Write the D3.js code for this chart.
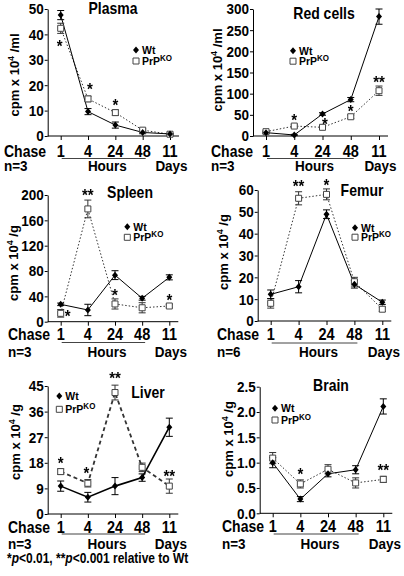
<!DOCTYPE html>
<html><head><meta charset="utf-8">
<script src="https://cdn.jsdelivr.net/npm/d3@7"></script>
<style>
body{margin:0;background:#fff}
svg{display:block}
text{font-family:"Liberation Sans",Arial,Helvetica,sans-serif;font-weight:bold;fill:#000}
.star{opacity:0.99;will-change:transform}
</style>
</head><body>
<svg id="chart" width="404" height="576"></svg>
<script>
// ---------- DATA ----------
const chase = ["1", "4", "24", "48", "11"];

const plasmaWt     = [47.6, 9.6, 4.3, 1.4, 0.8];
const plasmaWtErr  = [1.8, 1.2, 1.2, 0.5, 0.3];
const plasmaKO     = [42.4, 14.6, 9.2, 2.3, 0.7];
const plasmaKOErr  = [2.0, 1.1, 1.1, 0.5, 0.3];
const plasmaTicks  = [0, 10, 20, 30, 40, 50];

const redWt        = [7.9, 2.4, 52, 86, 282];
const redWtErr     = [2, 1.5, 3, 5, 18];
const redKO        = [10.2, 23.5, 20.5, 45.5, 107];
const redKOErr     = [2, 3, 3, 4, 11];
const redTicks     = [0, 50, 100, 150, 200, 250, 300];

const spleenWt     = [27.4, 18.5, 73.5, 37, 70];
const spleenWtErr  = [2, 9, 7, 3, 4];
const spleenKO     = [13.2, 178, 28, 22, 24.8];
const spleenKOErr  = [6, 14, 8, 8, 2];
const spleenTicks  = [0, 40, 80, 120, 160, 200];

const femurWt      = [12.2, 15.7, 48.9, 16.8, 8.6];
const femurWtErr   = [2, 2.8, 2, 1.7, 1];
const femurKO      = [8.1, 56.2, 58, 18, 5.4];
const femurKOErr   = [2.2, 3, 2.5, 2, 1];
const femurTicks   = [0, 10, 20, 30, 40, 50, 60];

const liverWt      = [9.8, 5.9, 9.8, 12.8, 30.5];
const liverWtErr   = [1.8, 1.7, 3.0, 1.3, 3.2];
const liverKO      = [14.9, 10.8, 42.7, 16.4, 9.8];
const liverKOErr   = [1.0, 1.3, 2.6, 1.5, 2.5];
const liverTicks   = [0, 9, 18, 27, 36, 45];

const brainWt      = [1.00, 0.28, 0.78, 0.86, 2.11];
const brainWtErr   = [0.10, 0.05, 0.06, 0.08, 0.15];
const brainKO      = [1.09, 0.58, 0.87, 0.60, 0.67];
const brainKOErr   = [0.11, 0.08, 0.09, 0.10, 0.06];
const brainTicks   = [0, 0.5, 1.0, 1.5, 2.0, 2.5];

// significance marks: [chase point, mark, level in data units]
const plasmaStars = [["1", "*", 36.6], ["4", "*", 19.7], ["24", "*", 13.5]];
const redStars    = [["4", "*", 44], ["24", "*", 36], ["48", "*", 65], ["11", "**", 134]];
const spleenStars = [["1", "*", 13.3], ["4", "**", 205], ["24", "*", 46.4], ["11", "*", 39.5]];
const femurStars  = [["4", "**", 63], ["24", "*", 63.8]];
const liverStars  = [["1", "*", 19], ["4", "*", 15.5], ["24", "**", 48.9], ["11", "**", 14.5]];
const brainStars  = [["4", "*", 0.84], ["11", "**", 0.91]];

const footnote = "relative to Wt";

// ---------- LAYOUT ----------
const S = 1.15; // vertical stretch of lettering in the reference
const panels = [
  {title:"Plasma", unit:"/ml", n:"n=3", wt:plasmaWt, wtE:plasmaWtErr, ko:plasmaKO, koE:plasmaKOErr, ticks:plasmaTicks, fmt:d3.format("d"), stars:plasmaStars,
   xr:[60.7,170], yr:[136,9], titleXY:[113,8.5], leg:[136,50,11], yTitleX:14, yTitleY:75, chaseX:4, tlY:151, hoursY:166, ulY:158.5, starDx:{"1":-1,"4":2,"24":0}},
  {title:"Red cells", unit:"/ml", n:"n=3", wt:redWt, wtE:redWtErr, ko:redKO, koE:redKOErr, ticks:redTicks, fmt:d3.format("d"), stars:redStars,
   xr:[266,379], yr:[136,9], titleXY:[324,13], leg:[293,50.7,10.5], yTitleX:217, yTitleY:70, chaseX:211, tlY:151, hoursY:166, ulY:158.5, starDx:{"24":2.5}},
  {title:"Spleen", unit:"/g", n:"n=3", wt:spleenWt, wtE:spleenWtErr, ko:spleenKO, koE:spleenKOErr, ticks:spleenTicks, fmt:d3.format("d"), stars:spleenStars,
   xr:[60.7,169.3], yr:[321.7,195], titleXY:[130,192], leg:[127.3,226.7,10.6], yTitleX:13, yTitleY:263, chaseX:8, tlY:334.5, hoursY:351.7, ulY:342.5, starDx:{"1":7}},
  {title:"Femur", unit:"/g", n:"n=6", wt:femurWt, wtE:femurWtErr, ko:femurKO, koE:femurKOErr, ticks:femurTicks, fmt:d3.format("d"), stars:femurStars,
   xr:[270.7,382.3], yr:[321,190], titleXY:[362,190], leg:[355,227.7,9.5], yTitleX:223, yTitleY:252, chaseX:217, tlY:334, hoursY:351.7, ulY:343, starDx:{}},
  {title:"Liver", unit:"/g", n:"n=3", wt:liverWt, wtE:liverWtErr, ko:liverKO, koE:liverKOErr, ticks:liverTicks, fmt:d3.format("d"), stars:liverStars,
   xr:[60.7,169.3], yr:[514,386], titleXY:[148,392], leg:[59.3,396,13.3], yTitleX:15, yTitleY:442, chaseX:8, tlY:527, hoursY:543.3, ulY:534, starDx:{"4":-1.5}, heavy:true},
  {title:"Brain", unit:"/g", n:"n=3", wt:brainWt, wtE:brainWtErr, ko:brainKO, koE:brainKOErr, ticks:brainTicks, fmt:d3.format(".1f"), stars:brainStars,
   xr:[272.7,383.3], yr:[513.3,386.7], titleXY:[331,385], leg:[275,408.3,11.7], yTitleX:228, yTitleY:439, chaseX:222, tlY:526.5, hoursY:543.3, ulY:534, starDx:{}}
];

const svg = d3.select("#chart");

function label(g, x, y, str, size, anchor, sy) {
  return g.append("text")
    .attr("transform", `translate(${x},${y}) scale(1,${sy || S})`)
    .attr("text-anchor", anchor || "middle")
    .attr("dy", "0.35em")
    .style("font-size", size + "px")
    .attr("fill", "#000")
    .text(str);
}
function diamond(w, h) { return `M0,${-h/2}L${w/2},0L0,${h/2}L${-w/2},0Z`; }
function square(s) { return `M${-s/2},${-s/2}h${s}v${s}h${-s}Z`; }

panels.forEach(p => {
  const g = svg.append("g");
  const x = d3.scalePoint().domain(chase).range(p.xr);
  const y = d3.scaleLinear().domain([0, d3.max(p.ticks)]).range(p.yr);
  const axisX = p.xr[0] - 13;
  const xEnd = p.xr[1] + 9;

  // y axis
  const ya = g.append("g").attr("transform", `translate(${axisX},0)`)
    .call(d3.axisLeft(y).tickValues(p.ticks).tickSize(3).tickSizeOuter(0).tickFormat(""));
  ya.selectAll("path,line").attr("stroke", "#000").attr("stroke-width", 1);
  p.ticks.forEach(t => label(g, axisX - 4, y(t), p.fmt(t), 13.5, "end"));

  // x axis
  const xa = g.append("g").attr("transform", `translate(0,${p.yr[0]})`)
    .call(d3.axisBottom(x).tickSize(4).tickSizeOuter(0).tickFormat(""));
  xa.select(".domain").remove();
  xa.selectAll("line").attr("stroke", "#000");
  g.append("line").attr("x1", axisX).attr("x2", xEnd).attr("y1", p.yr[0]).attr("y2", p.yr[0])
    .attr("stroke", "#000").attr("stroke-width", 1);
  chase.forEach(c => label(g, x(c), p.tlY, c, 14.5));
  label(g, p.chaseX, p.tlY, "Chase", 14, "start");
  label(g, p.chaseX, p.hoursY, p.n, 13.5, "start");
  label(g, x("24") - 8, p.hoursY, "Hours", 13.5);
  label(g, x("11") + 1.5, p.hoursY, "Days", 13.5);
  g.append("line").attr("x1", x("1") + 1).attr("x2", x("48") + 3).attr("y1", p.ulY).attr("y2", p.ulY)
    .attr("stroke", "#444").attr("stroke-width", 1);

  // y title
  const yt = g.append("text")
    .attr("transform", `translate(${p.yTitleX},${p.yTitleY}) rotate(-90)`)
    .attr("text-anchor", "middle").attr("dy", "0.35em").style("font-size", "13px").attr("fill", "#000");
  yt.append("tspan").text("cpm x 10");
  yt.append("tspan").attr("dy", -5).style("font-size", "9px").text("4");
  yt.append("tspan").attr("dy", 5).text(" " + p.unit);

  // title
  label(g, p.titleXY[0], p.titleXY[1], p.title, 14);

  // lines
  const line = arr => d3.line().x((d, i) => x(chase[i])).y(d => y(d))(arr);
  g.append("path").attr("d", line(p.ko)).attr("fill", "none").attr("stroke", "#333")
    .attr("stroke-width", p.heavy ? 1.8 : 1).attr("stroke-dasharray", p.heavy ? "4,3" : "1.5,2");
  g.append("path").attr("d", line(p.wt)).attr("fill", "none").attr("stroke", "#000")
    .attr("stroke-width", p.heavy ? 1.6 : 1);

  // error bars
  function errs(vals, es, col) {
    vals.forEach((v, i) => {
      const cx = x(chase[i]), y1 = y(v - es[i]), y2 = y(v + es[i]);
      g.append("line").attr("x1", cx).attr("x2", cx).attr("y1", y1).attr("y2", y2).attr("stroke", col);
      [y1, y2].forEach(yy => g.append("line").attr("x1", cx - 3.5).attr("x2", cx + 3.5)
        .attr("y1", yy).attr("y2", yy).attr("stroke", col));
    });
  }
  errs(p.ko, p.koE, "#333");
  errs(p.wt, p.wtE, "#000");

  // markers
  p.ko.forEach((v, i) => g.append("path").attr("d", square(6))
    .attr("transform", `translate(${x(chase[i])},${y(v)})`)
    .attr("fill", "#fff").attr("stroke", "#444").attr("stroke-width", 1));
  p.wt.forEach((v, i) => g.append("path").attr("d", diamond(6, 7))
    .attr("transform", `translate(${x(chase[i])},${y(v)})`).attr("fill", "#000"));

  // stars
  p.stars.forEach(([c, s, lv]) => {
    g.append("text").attr("class", "star")
      .attr("transform", `translate(${x(c) + (p.starDx[c] || 0)},${y(lv) + 9}) scale(1,1.05)`)
      .attr("text-anchor", "middle").attr("fill", "#000")
      .style("font-size", "15px").text(s);
  });

  // legend
  const [lx, ly, ld] = p.leg;
  g.append("path").attr("d", diamond(6, 7)).attr("transform", `translate(${lx},${ly})`).attr("fill", "#000");
  g.append("path").attr("d", square(6)).attr("transform", `translate(${lx},${ly + ld})`)
    .attr("fill", "#fff").attr("stroke", "#444");
  label(g, lx + 6, ly, "Wt", 10.5, "start", 1.05);
  const kt = g.append("text").attr("transform", `translate(${lx + 6},${ly + ld}) scale(1,1.05)`)
    .attr("dy", "0.35em").style("font-size", "10.5px").attr("fill", "#000");
  kt.append("tspan").text("PrP");
  kt.append("tspan").attr("dy", -4).style("font-size", "8px").text("KO");
});

// footnote
const fn = svg.append("text").attr("transform", `translate(7,558) scale(1,${S})`)
  .attr("dy", "0.35em").style("font-size", "12px").attr("fill", "#000");
fn.append("tspan").text("*");
fn.append("tspan").style("font-style", "italic").text("p");
fn.append("tspan").text("<0.01, **");
fn.append("tspan").style("font-style", "italic").text("p");
fn.append("tspan").text("<0.001 " + footnote);
</script>
</body></html>
